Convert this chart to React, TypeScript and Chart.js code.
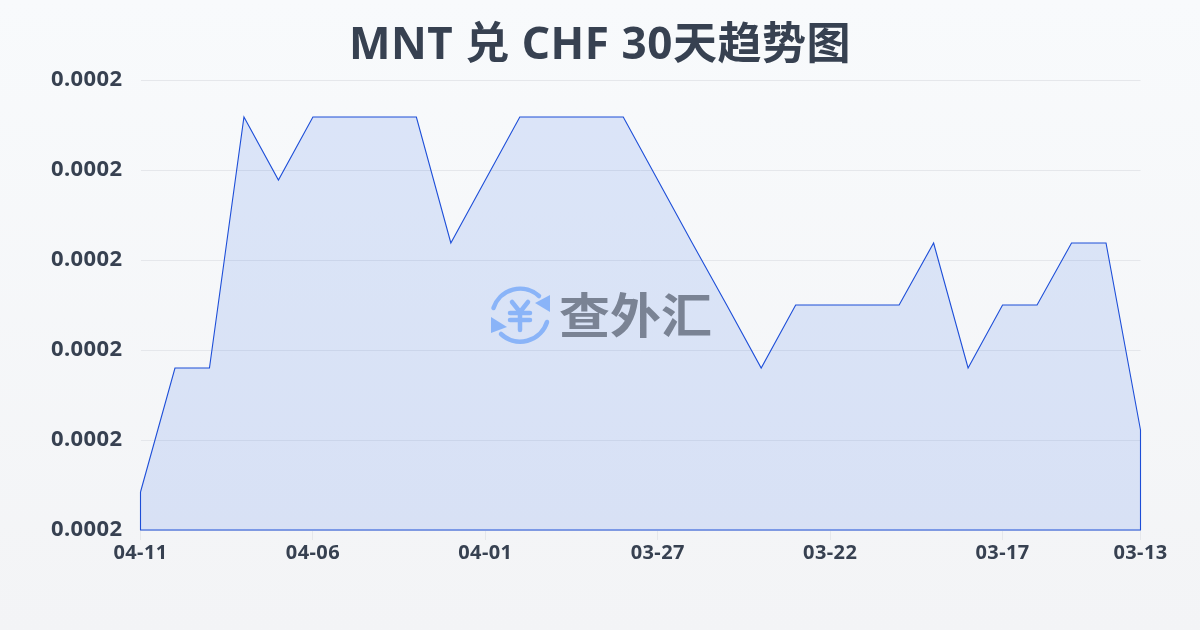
import React, { useEffect, useRef } from "react";
import { Chart, registerables } from "chart.js";

Chart.register(...registerables);

const dates = [
  "04-11", "04-10", "04-09", "04-08", "04-07", "04-06", "04-05", "04-04", "04-03", "04-02",
  "04-01", "03-31", "03-30", "03-29", "03-28", "03-27", "03-26", "03-25", "03-24", "03-23",
  "03-22", "03-21", "03-20", "03-19", "03-18", "03-17", "03-16", "03-15", "03-14", "03-13",
];
const rates = [
  0.00019422, 0.000208, 0.000208, 0.00023589, 0.00022889, 0.00023589, 0.00023589, 0.00023589, 0.00023589, 0.00022189,
  0.00022889, 0.00023589, 0.00023589, 0.00023589, 0.00023589, 0.00022889, 0.00022189, 0.000215, 0.000208, 0.000215,
  0.000215, 0.000215, 0.000215, 0.00022189, 0.000208, 0.000215, 0.000215, 0.00022189, 0.00022189, 0.00020111,
];
const shownDates = ["04-11", "04-06", "04-01", "03-27", "03-22", "03-17", "03-13"];
const axisMin = 0.00019;
const axisMax = 0.00024;
const axisStep = 0.00001;

const lineColor = "#1d4ed8";
const inkColor = "#374151";
const uiFont = "'Noto Sans', 'Noto Sans CJK SC', sans-serif";

const spacingPlugin = {
  id: "textSpacing",
  beforeDraw(chart: any) {
    const ctx = chart.ctx;
    ctx.letterSpacing = "0.4px";
    const block = chart.titleBlock;
    if (block && !block.__spaced) {
      const draw = block.draw.bind(block);
      block.draw = () => {
        ctx.letterSpacing = "0.55px";
        draw();
        ctx.letterSpacing = "0.4px";
      };
      block.__spaced = true;
    }
  },
};

export default function App() {
  const ref = useRef<HTMLCanvasElement | null>(null);

  useEffect(() => {
    document.body.style.margin = "0";
    const chart = new Chart(ref.current!, {
      type: "line",
      plugins: [spacingPlugin],
      data: {
        labels: dates,
        datasets: [
          {
            data: rates,
            borderColor: lineColor,
            borderWidth: 1.1,
            backgroundColor: "rgba(37,99,235,0.135)",
            fill: "start",
            pointRadius: 0,
            tension: 0,
            clip: false,
            yAxisID: "y",
          },
          {
            data: [
              { x: dates[dates.length - 1], y: rates[rates.length - 1] },
              { x: dates[dates.length - 1], y: axisMin },
              { x: dates[0], y: axisMin },
              { x: dates[0], y: rates[0] },
            ],
            borderColor: lineColor,
            borderWidth: 1.1,
            fill: false,
            pointRadius: 0,
            tension: 0,
            clip: false,
            yAxisID: "y",
          },
        ],
      } as any,
      options: {
        responsive: false,
        animation: false,
        layout: { padding: 0 },
        plugins: {
          legend: { display: false },
          tooltip: { enabled: false },
          title: {
            display: true,
            text: "MNT 兑 CHF 30天趋势图",
            color: inkColor,
            font: { family: uiFont, size: 44, weight: "bold", lineHeight: 1.2 },
            padding: { top: 20, bottom: 7.2 },
          },
        },
        scales: {
          x: {
            type: "category",
            offset: false,
            afterBuildTicks: (s: any) => {
              s.ticks = s.ticks.filter((t: any) => shownDates.includes(dates[t.value]));
            },
            afterFit: (s: any) => {
              s.height = 100;
            },
            grid: { drawOnChartArea: false, drawTicks: true, tickLength: 10, color: "#e5e7eb" },
            border: { display: false },
            ticks: {
              autoSkip: false,
              maxRotation: 0,
              padding: 1,
              color: inkColor,
              font: { family: uiFont, size: 20, weight: "bold" },
            },
          },
          y: {
            min: axisMin,
            max: axisMax,
            afterFit: (s: any) => {
              s.width = 140.5;
            },
            grid: { drawTicks: false, color: "#e5e7eb", lineWidth: 1 },
            border: { display: false },
            ticks: {
              stepSize: axisStep,
              padding: 18,
              color: inkColor,
              font: { family: uiFont, size: 22, weight: "bold" },
              callback: (v: any) => Number(v).toFixed(4),
            },
          },
          rightGutter: {
            position: "right",
            min: axisMin,
            max: axisMax,
            afterFit: (s: any) => {
              s.width = 59.5;
            },
            grid: { display: false, drawOnChartArea: false },
            border: { display: false },
            ticks: { display: false },
          },
        },
      },
    } as any);
    return () => chart.destroy();
  }, []);

  return (
    <div
      style={{
        position: "relative",
        width: 1200,
        height: 630,
        overflow: "hidden",
        background: "linear-gradient(180deg, #f8fafc 0%, #f3f4f6 100%)",
      }}
    >
      <canvas ref={ref} width={1200} height={630} style={{ display: "block" }} />
      <svg
        width={62}
        height={62}
        viewBox="0 0 62 62"
        style={{ position: "absolute", left: 489, top: 284 }}
        fill="none"
        stroke="#8ab4f8"
      >
        <path d="M4.5 24 A28 28 0 0 1 50 12" strokeWidth={4.5} strokeLinecap="round" />
        <path d="M58 38 A28 28 0 0 1 12 50" strokeWidth={4.5} strokeLinecap="round" />
        <path d="M61 11 L61 28 L46 19 Z" fill="#8ab4f8" stroke="none" />
        <path d="M2 33 L2 49 L18 43 Z" fill="#8ab4f8" stroke="none" />
        <path
          d="M23 18 L31 28 L39 18 M21 29 H41 M21 36 H41 M31 28 V46"
          strokeWidth={4.5}
          strokeLinecap="round"
          strokeLinejoin="round"
        />
      </svg>
      <div
        style={{
          position: "absolute",
          left: 559,
          top: 276,
          width: 160,
          lineHeight: "74px",
          fontSize: 51,
          fontWeight: 700,
          fontFamily: "'Noto Sans CJK SC', sans-serif",
          color: "#7a8394",
          whiteSpace: "nowrap",
          transform: "scaleY(0.93)",
        }}
      >
        查外汇
      </div>
    </div>
  );
}
